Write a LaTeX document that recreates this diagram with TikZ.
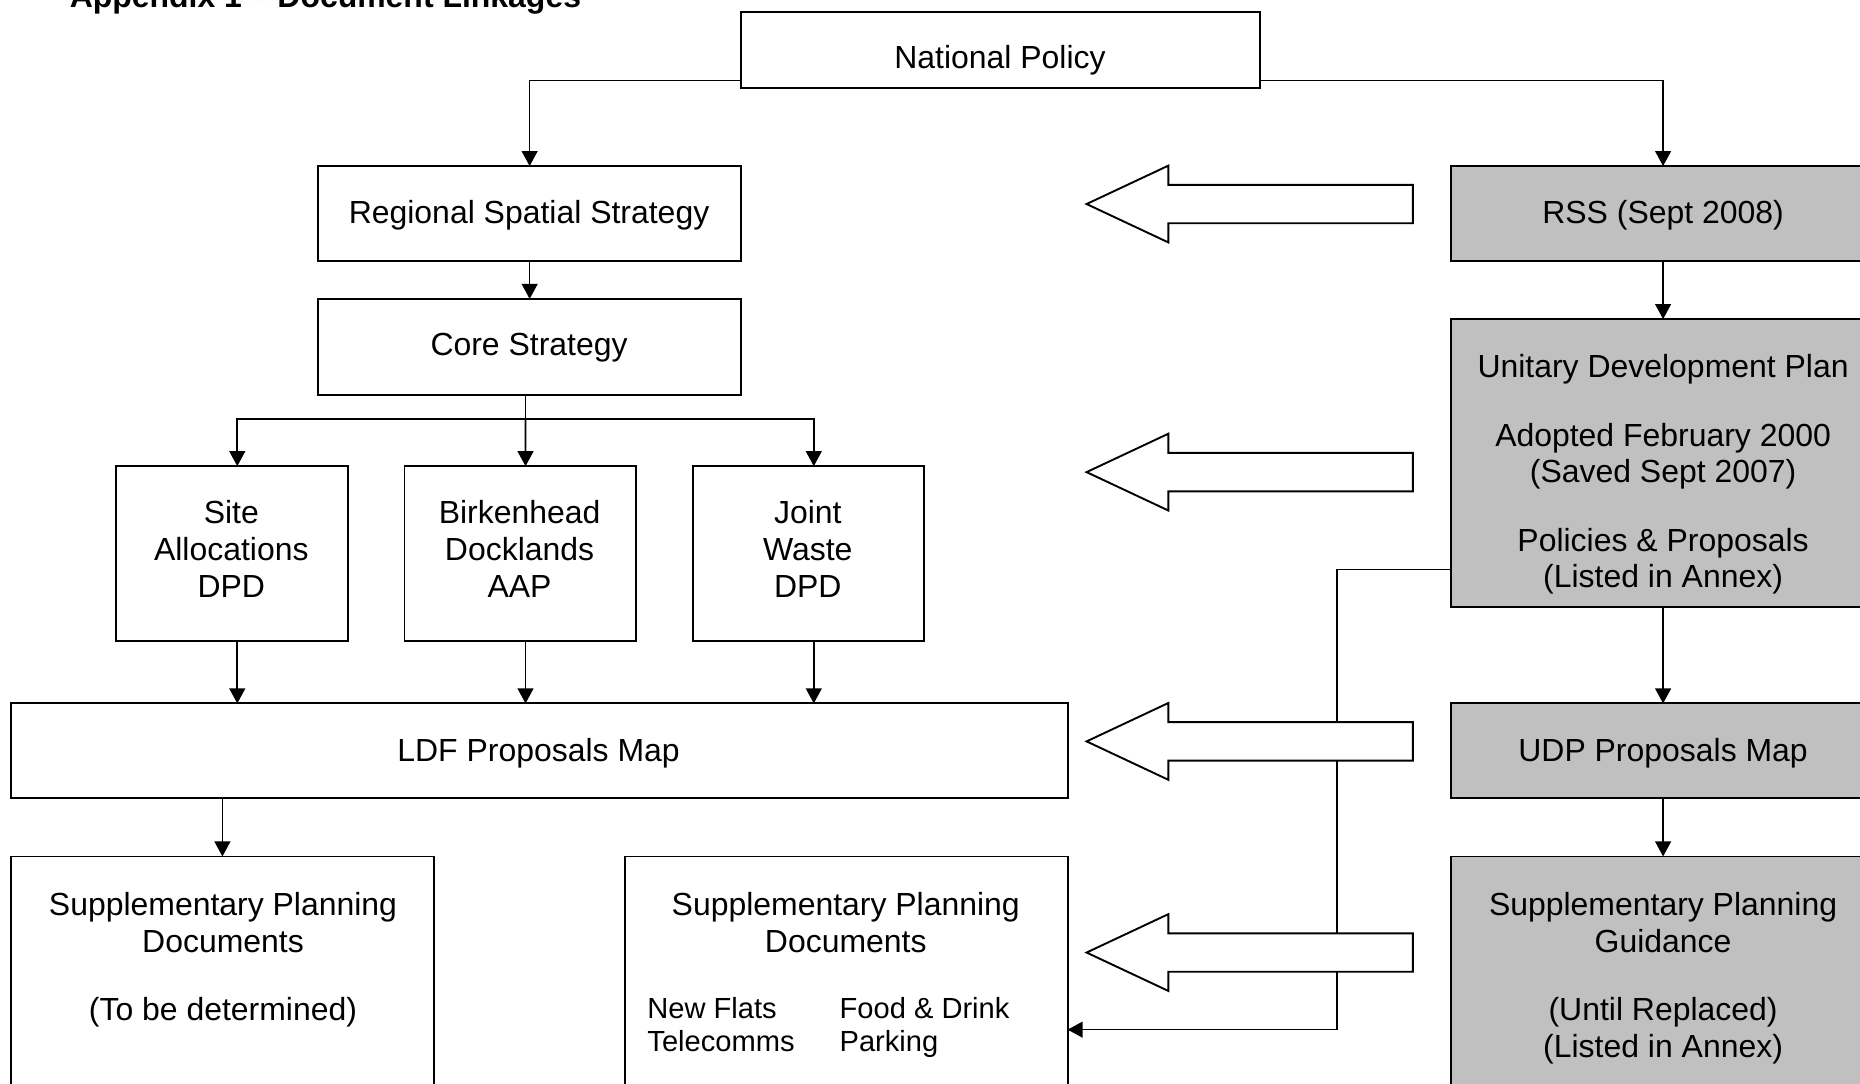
\documentclass[tikz,border=0pt]{standalone}
\usepackage{fontspec}
\setmainfont{Liberation Sans}
\usetikzlibrary{arrows.meta}

\definecolor{udpgrey}{RGB}{192,192,192}
\newcommand\docfont{\fontsize{20.2pt}{23.25pt}\selectfont}
\newcommand\notefont{\fontsize{18.4pt}{21pt}\selectfont}

\tikzset{every picture/.style={line width=1.2pt},
	docbox/.style={draw, rectangle, inner sep=0pt, outer sep=0pt},
	oldbox/.style={docbox, fill=udpgrey},
	boxsize/.style 2 args={minimum width=#1*0.75pt, minimum height=#2*0.75pt},
	txt/.style={anchor=north, inner sep=0pt, align=center, font=\docfont},
	note/.style={anchor=north west, inner sep=0pt, align=left, font=\notefont},
	link/.style={line width=1.05pt, -{Triangle[length=9.5pt,width=10pt]}},
	hollow/.style={draw, fill=white, line width=1.2pt, line join=miter}}

\begin{document}
\begin{tikzpicture}[x=0.75pt,y=0.75pt,yscale=-1,xscale=1]
	\useasboundingbox (0,0) rectangle (1568,913);

	% Title
	\node[anchor=base west, inner sep=0pt, font=\docfont\bfseries] (title) at (58,6) {Appendix 1 – Document Linkages};

	%Shape: Rectangle -- new system (left)
	\node[docbox, boxsize={437}{64}] (np) at (843.5,42) {};
	\node[docbox, boxsize={357}{80}] (rs) at (446.5,180) {};
	\node[docbox, boxsize={357}{81}] (cs) at (446.5,292.5) {};
	\node[docbox, boxsize={195}{147}] (sa) at (195.5,466.5) {};
	\node[docbox, boxsize={195}{147}] (bk) at (438.5,466.5) {};
	\node[docbox, boxsize={195}{147}] (jw) at (681.5,466.5) {};
	\node[docbox, boxsize={891}{80}] (ldf) at (454.5,633) {};
	\node[docbox, boxsize={357}{218}] (spdl) at (187.5,831) {};
	\node[docbox, boxsize={373}{218}] (spdm) at (713.5,831) {};

	%Shape: Rectangle -- old system (right, grey)
	\node[oldbox, boxsize={358}{80}] (rss) at (1402,180) {};
	\node[oldbox, boxsize={358}{243}] (udp) at (1402,390.5) {};
	\node[oldbox, boxsize={358}{80}] (udpm) at (1402,633) {};
	\node[oldbox, boxsize={358}{218}] (spg) at (1402,831) {};

	%Straight Lines
	\draw[link] ([yshift=-4.5pt]np.south west) -| (rs.north);
	\draw[link] ([yshift=-4.5pt]np.south east) -| (rss.north);
	\draw[link] (rs.south) -- (cs.north);
	\coordinate (split) at (443,353);
	\draw[line width=1.05pt] (cs.south -| split) -- (split);
	\draw[link] (split) -| ([xshift=3.4pt]sa.north);
	\draw[link] (split) -- ([xshift=3.4pt]bk.north);
	\draw[link] (split) -| ([xshift=3.4pt]jw.north);
	\foreach \b in {sa,bk,jw}
		\draw[link] ([xshift=3.4pt]\b.south) -- ([xshift=3.4pt]\b.south |- ldf.north);
	\draw[link] (ldf.south -| spdl.north) -- (spdl.north);
	\draw[link] (rss.south) -- (udp.north);
	\draw[link] (udp.south) -- (udpm.north);
	\draw[link] (udpm.south) -- (spg.north);
	\coordinate (drop) at (1127,868);
	\draw[link] ([yshift=-24pt]udp.south west) -| (drop) -- (drop -| spdm.east);

	%Shape: Left Arrow (hollow)
	\foreach \cy in {172,398,625,803}
		\draw[hollow] (916,\cy) -- (985,\cy-32.4) -- (985,\cy-16.2) -- (1191,\cy-16.2)
			-- (1191,\cy+16.2) -- (985,\cy+16.2) -- (985,\cy+32.4) -- cycle;

	% Text Node
	\node[txt] (nptext) at (843,37.5) {National Policy};
	% Text Node
	\node[txt] (rstext) at (446,168.3) {Regional Spatial Strategy};
	% Text Node
	\node[txt] (cstext) at (446,280.3) {Core Strategy};
	% Text Node
	\node[txt] (satext) at (195,421.3) {Site\\Allocations\\DPD};
	% Text Node
	\node[txt] (bktext) at (438,421.3) {Birkenhead\\Docklands\\AAP};
	% Text Node
	\node[txt] (jwtext) at (681,421.3) {Joint\\Waste\\DPD};
	% Text Node
	\node[txt] (ldftext) at (454,621.3) {LDF Proposals Map};
	% Text Node
	\node[txt] (spdltext) at (188,751.3) {Supplementary Planning\\Documents\\[19.9pt](To be determined)};
	% Text Node
	\node[txt] (spdmtext) at (713,751.3) {Supplementary Planning\\Documents};
	% Text Node
	\node[note] (flats) at (545,840) {New Flats\\Telecomms};
	% Text Node
	\node[note] (food) at (707,840) {Food \& Drink\\Parking};
	% Text Node
	\node[txt] (rsstext) at (1402,168.3) {RSS (Sept 2008)};
	% Text Node
	\node[txt] (udptext) at (1402,298.3) {Unitary Development Plan\\[19.9pt]Adopted February 2000\\(Saved Sept 2007)\\[19.9pt]Policies \& Proposals\\(Listed in Annex)};
	% Text Node
	\node[txt] (udpmtext) at (1402,621.3) {UDP Proposals Map};
	% Text Node
	\node[txt] (spgtext) at (1402,751.3) {Supplementary Planning\\Guidance\\[19.9pt](Until Replaced)\\(Listed in Annex)};

\end{tikzpicture}
\end{document}
